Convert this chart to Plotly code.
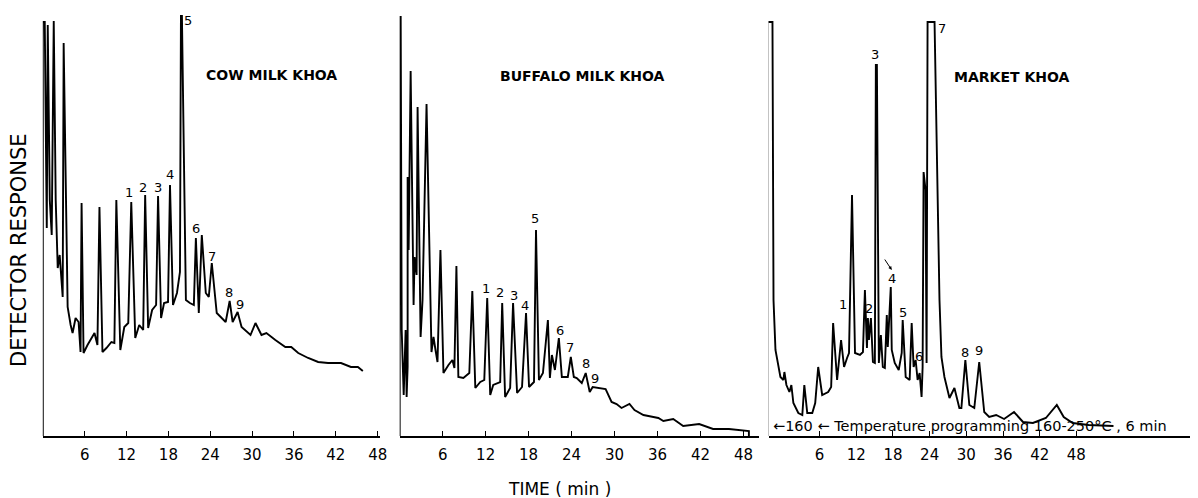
import plotly.graph_objects as go

# ---------------- data (time in min, detector response in arbitrary units) ----------------
cow_time = [0, 0, 0.28, 0.43, 0.57, 0.71, 1.0, 1.28, 1.57, 1.85, 2.14, 2.42, 2.71, 2.85, 2.99, 3.28,
            3.56, 3.99, 4.27, 4.70, 5.13, 5.41, 5.56, 5.84, 6.41, 7.41, 7.83, 8.12, 8.55, 9.12, 9.83,
            10.26, 10.54, 11.11, 11.68, 12.25, 12.68, 13.25, 13.82, 14.39, 14.67, 15.10, 15.67, 16.24,
            16.52, 16.95, 17.38, 17.95, 18.23, 18.66, 19.23, 19.66, 19.80, 19.94, 20.51, 21.08, 21.65,
            21.94, 22.36, 22.79, 23.36, 23.79, 24.22, 24.93, 26.21, 26.78, 27.21, 27.92, 28.49, 29.77,
            30.48, 31.34, 32.05, 33.33, 34.76, 35.61, 36.61, 38.03, 39.46, 40.88, 42.74, 44.16, 45.16,
            45.87]
cow_resp = [0, 414, 414, 256, 208, 411, 236, 201, 415, 236, 168, 181, 144, 139, 393, 236,
            129, 111, 103, 118, 114, 84, 233, 83, 91, 103, 91, 229, 84, 88, 94,
            93, 236, 86, 109, 113, 234, 98, 111, 106, 241, 108, 126, 131,
            240, 118, 133, 134, 251, 131, 143, 164, 420, 420, 136, 133, 131,
            198, 123, 201, 143, 139, 173, 123, 114, 135, 114, 124, 109, 101,
            113, 101, 103, 96, 89, 89, 83, 78, 74, 73, 73, 69, 69,
            65]

buf_time = [0, 0, 0.14, 0.28, 0.56, 0.83, 0.97, 1.11, 1.11, 1.25, 1.53, 1.81, 1.94, 2.08, 2.36, 2.5,
            2.92, 3.19, 3.75, 4.44, 4.72, 5.0, 5.28, 5.69, 6.11, 6.81, 7.36, 7.64, 7.92, 8.19, 8.89,
            9.72, 10.14, 10.56, 11.25, 11.81, 12.22, 12.64, 13.06, 14.03, 14.31, 14.72, 15.42, 15.83,
            16.39, 17.08, 17.64, 18.06, 18.75, 19.03, 19.44, 20.0, 20.69, 20.97, 21.25, 21.67, 22.22,
            22.64, 23.47, 23.89, 24.31, 24.72, 25.42, 25.97, 26.53, 26.94, 27.92, 28.75, 29.58, 30.28,
            30.97, 32.08, 32.78, 34.03, 35.42, 36.11, 36.81, 38.19, 39.58, 41.81, 43.75, 45.97, 48.75,
            48.75]
buf_resp = [0, 419, 419, 106, 41, 106, 39, 69, 259, 186, 365, 186, 131, 179, 161, 329,
            99, 136, 332, 84, 99, 86, 74, 186, 63, 71, 76, 68, 170, 59, 58,
            63, 145, 48, 54, 56, 138, 41, 51, 54, 133, 39, 48, 133,
            43, 49, 123, 49, 54, 206, 56, 63, 116, 58, 81, 66, 98,
            59, 59, 79, 59, 58, 53, 63, 44, 49, 48, 47, 34, 32,
            28, 32, 26, 21, 19, 18, 15, 17, 10, 12, 7, 7, 5,
            0]

mkt_time = [-2.52, -2.52, -1.71, -1.54, -1.22, -0.89, -0.41, 0.08, 0.24, 0.57, 1.06, 1.38, 1.71, 2.52,
            3.17, 3.5, 3.98, 4.8, 5.28, 5.77, 6.42, 7.4, 7.89, 8.21, 8.86, 9.51, 10.0, 10.49, 10.81,
            11.3, 11.79, 12.6, 13.09, 13.41, 13.74, 13.9, 14.07, 14.39, 14.72, 15.04, 15.2, 15.37,
            15.69, 16.02, 16.34, 16.67, 16.99, 17.15, 17.64, 17.8, 18.29, 18.94, 19.43, 19.59, 20.08,
            20.73, 21.06, 21.38, 21.71, 22.03, 22.36, 22.68, 22.85, 23.01, 23.33, 23.5, 23.66, 24.8,
            25.61, 25.93, 26.42, 27.24, 28.05, 28.86, 29.19, 29.84, 30.49, 31.3, 32.11, 32.93, 33.74,
            34.88, 36.18, 37.8, 39.27, 40.89, 43.01, 44.8, 45.93, 47.4, 50.0, 54.07]
mkt_resp = [0, 414, 414, 136, 86, 76, 59, 56, 64, 51, 44, 51, 33, 23,
            21, 51, 23, 23, 33, 69, 41, 44, 49, 113, 56, 96, 69, 78, 83,
            241, 83, 81, 84, 146, 88, 118, 96, 118, 74, 73, 371, 371,
            73, 101, 69, 68, 121, 89, 149, 86, 73, 66, 83, 116, 59,
            56, 113, 69, 76, 56, 63, 39, 69, 264, 246, 73, 414, 414,
            136, 79, 59, 38, 48, 28, 28, 76, 31, 28, 74, 24, 19,
            21, 17, 24, 14, 13, 18, 31, 19, 13, 11, 10]

peak_labels = ["1", "2", "3", "4", "5", "6", "7", "8", "9"]
cow_lab_t = [12.39, 14.39, 16.52, 18.23, 20.8, 21.94, 24.22, 26.64, 28.21]
cow_lab_r = [243, 248, 248, 261, 415, 207, 179, 144, 132]
buf_lab_t = [12.08, 14.03, 15.97, 17.5, 18.89, 22.36, 23.75, 25.97, 27.22]
buf_lab_r = [148, 144, 141, 131, 217, 106, 89, 73, 58]
mkt_lab_t = [9.84, 14.07, 15.04, 17.8, 19.59, 22.2, 26.0, 29.84, 32.11]
mkt_lab_r = [132, 128, 381, 158, 124, 80, 407, 84, 86]

panel_titles = ["COW MILK KHOA", "BUFFALO MILK KHOA", "MARKET KHOA"]
title_pos_t = [32.76, 25.42, 37.32]
title_pos_r = [361, 360, 359]

tick_vals = [6, 12, 18, 24, 30, 36, 42, 48]
tick_text = ["6", "12", "18", "24", "30", "36", "42", "48"]

temp_note = "\u2190160 \u2190 Temperature programming 160-250\u00b0C , 6 min"

# ---------------- figure ----------------
# the page body has an 8 px margin, so the figure is drawn 8 px in from the window edge
OFF = 8
W, H = 1198 - OFF, 498 - OFF


def px_x(px):
    return (px - OFF) / W


def px_y(py):
    return 1 - (py - OFF) / H


fig = go.Figure()

series = [(cow_time, cow_resp, "x", "y"),
          (buf_time, buf_resp, "x2", "y2"),
          (mkt_time, mkt_resp, "x3", "y3")]
for t, r, xa, ya in series:
    fig.add_trace(go.Scatter(x=t, y=r, mode="lines", xaxis=xa, yaxis=ya,
                             line=dict(color="black", width=1.9), hoverinfo="skip",
                             showlegend=False))

lab_sets = [(cow_lab_t, cow_lab_r, "x", "y"),
            (buf_lab_t, buf_lab_r, "x2", "y2"),
            (mkt_lab_t, mkt_lab_r, "x3", "y3")]
for lt, lr, xa, ya in lab_sets:
    for txt, tt, rr in zip(peak_labels, lt, lr):
        fig.add_annotation(x=tt, y=rr, xref=xa, yref=ya, text=txt, showarrow=False,
                           font=dict(family="DejaVu Sans", size=13, color="black"))

for i, (title, tt, rr) in enumerate(zip(panel_titles, title_pos_t, title_pos_r)):
    xa = ["x", "x2", "x3"][i]
    ya = ["y", "y2", "y3"][i]
    fig.add_annotation(x=tt, y=rr, xref=xa, yref=ya, text="<b>" + title + "</b>",
                       showarrow=False,
                       font=dict(family="DejaVu Sans", size=14, color="black"))

# arrow pointing to peak 4 shoulder in market khoa
fig.add_annotation(x=17.8, y=166, xref="x3", yref="y3", ax=16.5, ay=178, axref="x3",
                   ayref="y3", text="", showarrow=True, arrowhead=2, arrowsize=0.7,
                   arrowwidth=1, arrowcolor="black")

fig.add_annotation(x=-1.9, y=10, xref="x3", yref="y3", text=temp_note, showarrow=False,
                   xanchor="left", yanchor="middle",
                   font=dict(family="DejaVu Sans", size=14.5, color="black"))

fig.add_annotation(x=px_x(19), y=px_y(250), xref="paper", yref="paper",
                   xanchor="center", yanchor="middle",
                   text="DETECTOR RESPONSE", textangle=-90, showarrow=False,
                   font=dict(family="DejaVu Sans", size=21, color="black"))
fig.add_annotation(x=px_x(563), y=px_y(489), xref="paper", yref="paper",
                   xanchor="center", yanchor="middle",
                   text="TIME ( min )", showarrow=False,
                   font=dict(family="DejaVu Sans", size=17, color="black"))

ydom = [px_y(436), px_y(11)]
axis_common = dict(showgrid=False, zeroline=False, showline=True, linecolor="black",
                   linewidth=1.6, ticks="inside", ticklen=5, tickwidth=1.2,
                   tickcolor="black", tickvals=tick_vals, ticktext=tick_text,
                   tickfont=dict(family="DejaVu Sans", size=15, color="black"),
                   ticklabelstandoff=4, fixedrange=True)
yax_common = dict(showgrid=False, zeroline=False, showline=False, showticklabels=False,
                  ticks="", range=[0, 425], domain=ydom, fixedrange=True)

fig.update_layout(
    width=W, height=H, margin=dict(l=0, r=0, t=0, b=0),
    paper_bgcolor="white", plot_bgcolor="white", showlegend=False,
    xaxis=dict(domain=[px_x(43), px_x(382)], range=[0, 48.3], anchor="y", **axis_common),
    xaxis2=dict(domain=[px_x(402), px_x(763)], range=[0, 50.1], anchor="y2", **axis_common),
    xaxis3=dict(domain=[px_x(773), 1.0], range=[-2.36, 66.75], anchor="y3", **axis_common),
    yaxis=dict(anchor="x", **yax_common),
    yaxis2=dict(anchor="x2", **yax_common),
    yaxis3=dict(anchor="x3", **yax_common),
)

fig.write_html("out.html")
